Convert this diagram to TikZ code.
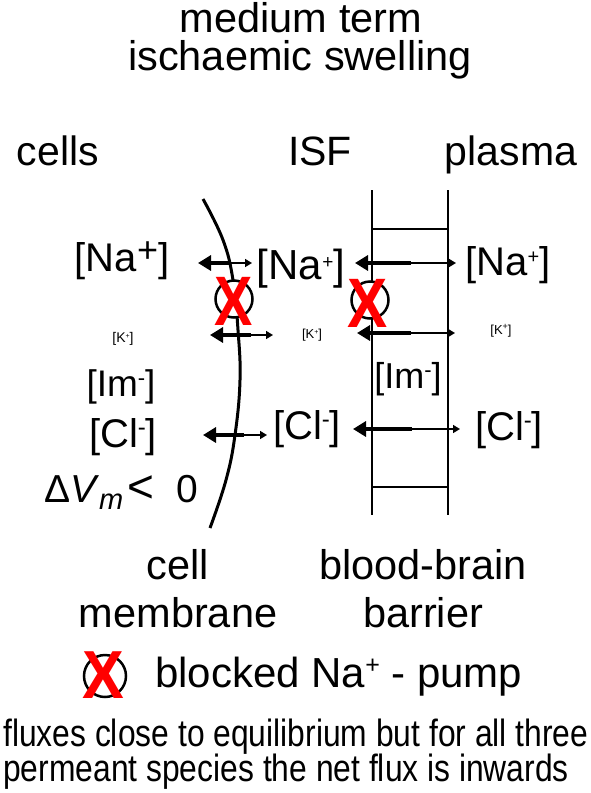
\documentclass[tikz,border=0pt]{standalone}
\usepackage{fontspec}
\usepackage{graphicx}
\setmainfont{Liberation Sans}
\usetikzlibrary{arrows.meta}
\newcommand{\upsym}[3]{\raisebox{#3}{\fontsize{#2}{#2}\selectfont #1}}
\newcommand{\fs}[1]{\fontsize{#1}{#1}\selectfont}
\begin{document}
\begin{tikzpicture}[x=1pt,y=-1pt,
  lbl/.style={inner sep=0pt, anchor=base, font=\fs{41}},
  thickarr/.style={line width=4.5pt, -{Triangle[length=13pt,width=15pt]}},
  thinarr/.style={line width=1.6pt, -{Triangle[length=7pt,width=8pt]}},
  pump/.style={circle, draw, line width=2.5pt, fill=white, minimum size=37pt, inner sep=0pt},
  redx/.style={inner sep=0pt, text=red, font=\fs{70}\bfseries},
  wall/.style={line width=2.6pt}]
\useasboundingbox (0,0) rectangle (591,793);
% titles
\node[lbl,font=\fs{41.5}] (t1) at (301,32) {medium term};
\node[lbl,font=\fs{41.5}] (t2) at (300,70) {ischaemic swelling};
\node[lbl] (cells) at (58,165) {cells};
\node[lbl] (isf) at (320,165) {ISF};
\node[lbl] (plasma) at (511,165) {plasma};
% cell membrane
\draw[line width=3pt] plot[smooth, tension=0.7] coordinates {(203,199) (223,240) (233,280) (238,330) (240,380) (235,435) (226,480) (210,528)};
% blood-brain barrier
\draw[wall] (372,190) -- (372,515);
\draw[wall] (448,190) -- (448,515);
\draw[wall] (372,229) -- (448,229);
\draw[wall] (372,487) -- (448,487);
% pumps
\node[pump] (pc) at (234,299) {};
\node[pump] (pb) at (370,300) {};
% arrows: cell membrane
\coordinate (cNaL) at (198,263); \coordinate (cNaM) at (231,263); \coordinate (cNaR) at (252,263);
\coordinate (cKL) at (210,335); \coordinate (cKM) at (251,335); \coordinate (cKR) at (273,335);
\coordinate (cClL) at (203,435); \coordinate (cClM) at (244,435); \coordinate (cClR) at (267,435);
\draw[thickarr] (cNaM) -- (cNaL); \draw[thinarr] (cNaM) -- (cNaR);
\draw[thickarr] (cKM) -- (cKL); \draw[thinarr] (cKM) -- (cKR);
\draw[thickarr] (cClM) -- (cClL); \draw[thinarr] (cClM) -- (cClR);
% arrows: BBB
\coordinate (bNaL) at (355,263); \coordinate (bNaM) at (411,263); \coordinate (bNaR) at (456,263);
\coordinate (bKL) at (357,333); \coordinate (bKM) at (411,333); \coordinate (bKR) at (455,333);
\coordinate (bClL) at (353,429); \coordinate (bClM) at (412,429); \coordinate (bClR) at (460,429);
\draw[thickarr] (bNaM) -- (bNaL); \draw[thinarr] (bNaM) -- (bNaR);
\draw[thickarr] (bKM) -- (bKL); \draw[thinarr] (bKM) -- (bKR);
\draw[thickarr] (bClM) -- (bClL); \draw[thinarr] (bClM) -- (bClR);
% red crosses
\node[redx] (xc) at (234,301) {\scalebox{0.82}[1]{X}};
\node[redx] (xb) at (368,303) {\scalebox{0.86}[1]{X}};
% concentrations
\node[lbl,font=\fs{40}] (naL) at (122,271) {[Na\upsym{+}{36}{9pt}]};
\node[lbl,font=\fs{42}] (naM) at (301,279) {[Na\upsym{+}{19}{11pt}]};
\node[lbl,font=\fs{40}] (naR) at (508,275) {[Na\upsym{+}{20}{12pt}]};
\node[lbl,font=\fs{14}] (kL) at (123,342) {[K\upsym{+}{7}{4pt}]};
\node[lbl,font=\fs{13}] (kM) at (312,338) {[K\upsym{+}{7}{4pt}]};
\node[lbl,font=\fs{13}] (kR) at (501,334) {[K\upsym{+}{9}{5pt}]};
\node[lbl,font=\fs{37}] (imL) at (121,396) {[Im\upsym{-}{22}{11pt}]};
\node[lbl,font=\fs{36}] (imM) at (408,388) {[Im\upsym{-}{22}{11pt}]};
\node[lbl,font=\fs{40}] (clL) at (123,447) {[Cl\upsym{-}{24}{12pt}]};
\node[lbl,font=\fs{40}] (clM) at (307,439) {[Cl\upsym{-}{24}{12pt}]};
\node[lbl,font=\fs{40}] (clR) at (509,440) {[Cl\upsym{-}{24}{12pt}]};
\node[lbl,font=\fs{39}] (dv) at (121,502) {Δ\textit{V}\raisebox{-7pt}{\fs{29}\textit{m}}\hspace{4pt}{\fs{46}<}\hspace{22pt}0};
% bottom labels
\node[lbl,font=\fs{41.5}] (cell) at (178,579) {cell};
\node[lbl,font=\fs{41.5}] (memb) at (178,627) {membrane};
\node[lbl,font=\fs{41.5}] (bb) at (423,579) {blood-brain};
\node[lbl,font=\fs{41.5}] (barr) at (423,627) {barrier};
% legend
\node[pump, minimum size=42pt] (lp) at (105,676) {};
\node[redx, font=\fs{68}\bfseries] (lx) at (103,675) {\scalebox{0.92}[1]{X}};
\node[lbl,font=\fs{42},anchor=base west] (leg) at (155,687) {blocked Na\upsym{+}{25}{14pt} - pump};
% note
\node[lbl,font=\fs{38},anchor=base west] (n1) at (3,746) {\scalebox{0.837}[1]{fluxes close to equilibrium but for all three}};
\node[lbl,font=\fs{38},anchor=base west] (n2) at (3,781) {\scalebox{0.837}[1]{permeant species the net flux is inwards}};
\end{tikzpicture}
\end{document}
